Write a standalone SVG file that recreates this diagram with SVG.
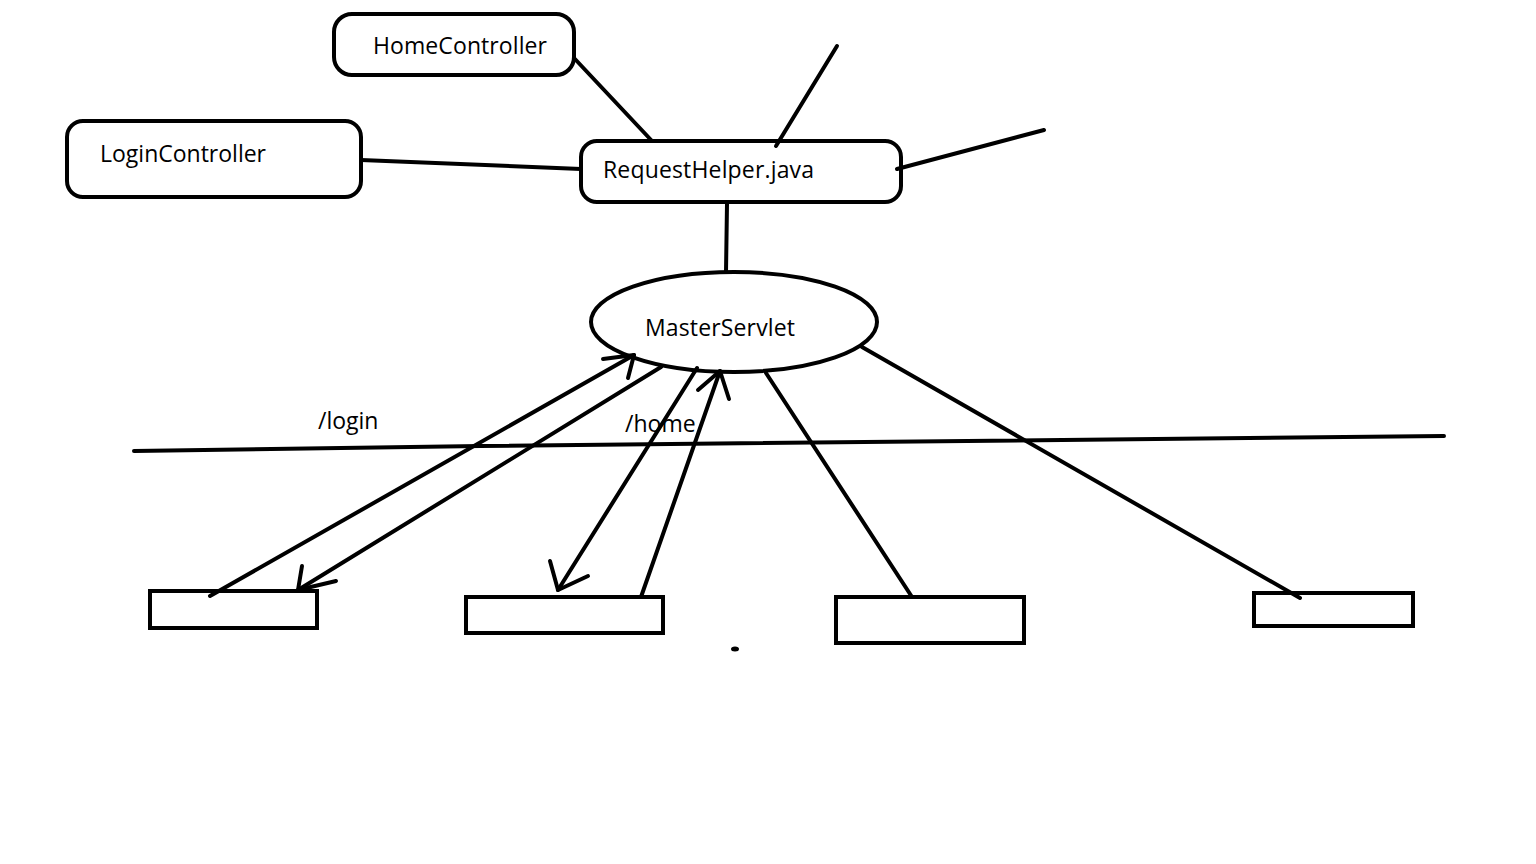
<svg xmlns="http://www.w3.org/2000/svg" width="1536" height="864" viewBox="0 0 1536 864">
<style>
.s{fill:none;stroke:#000;stroke-width:4;stroke-linecap:round;stroke-linejoin:round}
.b{fill:#fff;stroke:#000;stroke-width:4}
.t{font-family:"Open Sans","Noto Sans",sans-serif;font-size:23px;fill:#000}
</style>
<rect width="1536" height="864" fill="#fff"/>
<g id="home">
<rect class="b" x="334" y="14" width="240" height="61" rx="18"/>
<text class="t" x="373" y="54" textLength="174">HomeController</text>
</g>
<g id="login">
<rect class="b" x="67" y="121" width="294" height="76" rx="16"/>
<text class="t" x="100" y="162" textLength="166">LoginController</text>
</g>
<g id="requesthelper">
<rect class="b" x="581" y="141" width="320" height="61" rx="16"/>
<text class="t" x="603" y="178" textLength="211">RequestHelper.java</text>
</g>
<g id="masterservlet">
<ellipse class="b" cx="734" cy="322" rx="143" ry="50"/>
<text class="t" x="645" y="336" textLength="150">MasterServlet</text>
</g>
<g id="labels">
<text class="t" x="318" y="429">/login</text>
<text class="t" x="625" y="432">/home</text>
</g>
<g id="box1"><rect class="b" x="150" y="591" width="167" height="37"/></g>
<g id="box2"><rect class="b" x="466" y="597" width="197" height="36"/></g>
<g id="box3"><rect class="b" x="836" y="597" width="188" height="46"/></g>
<g id="box4"><rect class="b" x="1254" y="593" width="159" height="33"/></g>
<g id="connectors">
<line class="s" x1="574" y1="58" x2="652" y2="141"/>
<line class="s" x1="776" y1="146" x2="837" y2="46"/>
<line class="s" x1="897" y1="169" x2="1044" y2="130"/>
<line class="s" x1="361" y1="160" x2="581" y2="169"/>
<line class="s" x1="727" y1="204" x2="726" y2="272"/>
<polyline class="s" points="134,451 480,446 1444,436"/>
<line class="s" x1="210" y1="596" x2="634" y2="355"/>
<polyline class="s" points="603,359 634,355 628,378"/>
<line class="s" x1="661" y1="367" x2="298" y2="590"/>
<polyline class="s" points="336,581 298,590 302,566"/>
<line class="s" x1="697" y1="368" x2="558" y2="590"/>
<polyline class="s" points="550,561 558,590 588,576"/>
<line class="s" x1="641" y1="597" x2="720" y2="371"/>
<polyline class="s" points="698,390 720,371 729,399"/>
<line class="s" x1="766" y1="373" x2="912" y2="597"/>
<line class="s" x1="862" y1="347" x2="1300" y2="598"/>
<ellipse cx="735" cy="649" rx="4" ry="2.5" fill="#000"/>
</g>
</svg>
